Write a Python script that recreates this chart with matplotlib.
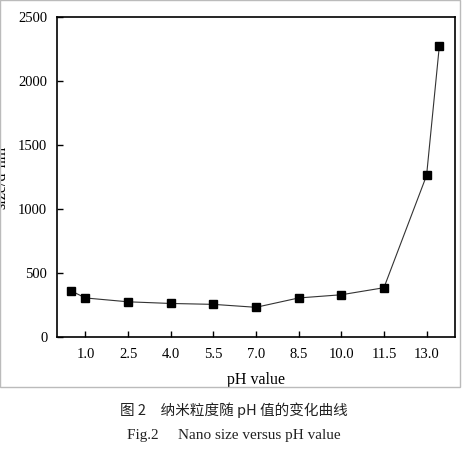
import matplotlib
matplotlib.use("Agg")
import matplotlib.pyplot as plt
from matplotlib.patches import Rectangle

ph = [0.5, 1.0, 2.5, 4.0, 5.5, 7.0, 8.5, 10.0, 11.5, 13.0, 13.45]
size = [360, 305, 275, 262, 255, 232, 305, 330, 385, 1262, 2275]
xticks = [1.0, 2.5, 4.0, 5.5, 7.0, 8.5, 10.0, 11.5, 13.0]
yticks = [0, 500, 1000, 1500, 2000, 2500]

plt.rcParams['font.family'] = ['Liberation Serif']
fig = plt.figure(figsize=(4.67, 4.49), dpi=100)
ax = fig.add_axes([57/467, 1-337/449, 398/467, 320/449])
ax.plot(ph, size, color='#333333', lw=0.8, marker='s', ms=5.5, mfc='black', mec='black')
ax.set_xlim(0.0, 14.0)
ax.set_ylim(0, 2500)
ax.set_xticks(xticks)
ax.set_xticklabels([f"{v:.1f}" for v in xticks])
ax.set_yticks(yticks)
ax.tick_params(direction='in', labelsize=10.5, length=4, width=1)
ax.tick_params(axis='x', pad=8)
ax.tick_params(axis='y', pad=7)
for s in ax.spines.values():
    s.set_linewidth(1.2)
ax.set_xlabel('pH value', fontsize=11.5, labelpad=8)
ax.set_ylabel('size/d·nm', fontsize=11.5, labelpad=6)
fig.patches.append(Rectangle((0, 1-387/449), 460/467, 387/449, transform=fig.transFigure,
                             fill=False, edgecolor='#bbbbbb', lw=1))
fig.text(0.5, 1-410/449, '图 2　纳米粒度随 pH 值的变化曲线', ha='center', va='center',
         fontsize=10.5, family=['Noto Sans CJK SC', 'DejaVu Sans'], color='#222222')
fig.text(0.5, 1-435/449, 'Fig.2     Nano size versus pH value', ha='center', va='center',
         fontsize=11, color='#222222')
fig.savefig('out.png', dpi=100)
